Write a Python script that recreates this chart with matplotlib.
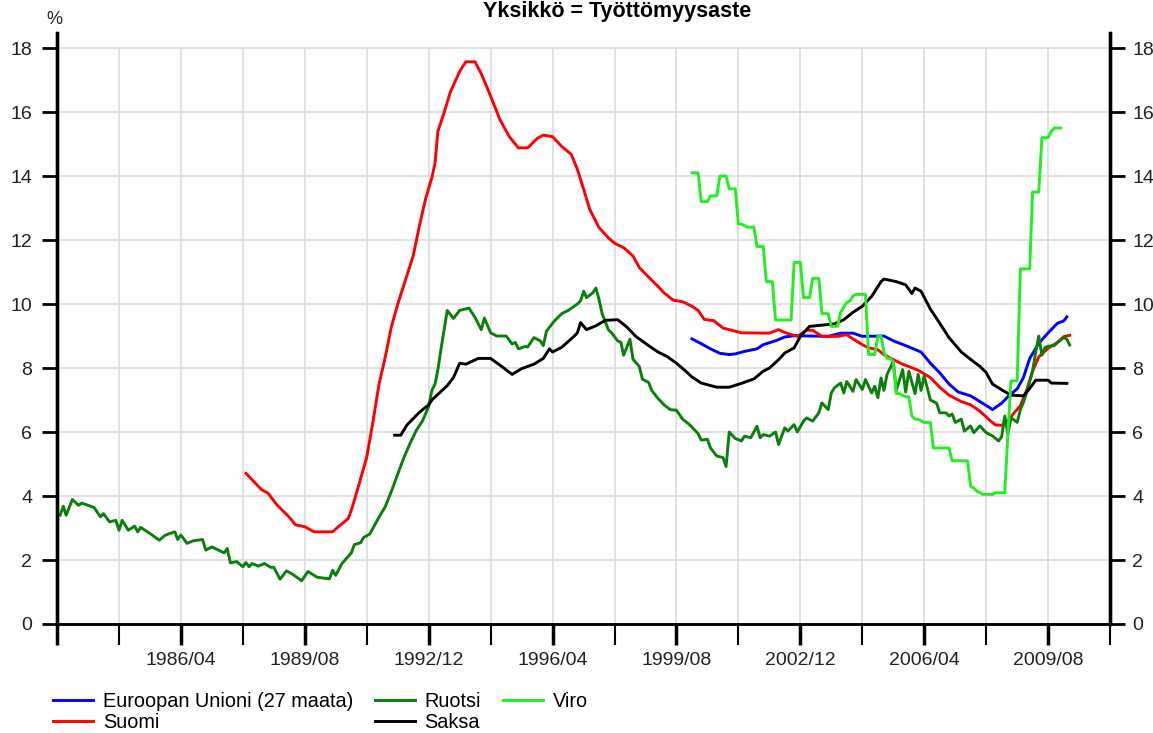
import matplotlib
matplotlib.use('Agg')
import matplotlib.pyplot as plt
import pandas as pd
import numpy as np

plt.rcParams['font.family'] = ['Liberation Sans', 'DejaVu Sans']

# Työttömyysaste (%), kuukausittain, luettu kuvasta
eu_dates = ['2000-01', '2000-04', '2000-07', '2000-10', '2001-01', '2001-03', '2001-06', '2001-10',
            '2001-12', '2002-04', '2002-07', '2002-10', '2003-09', '2004-01', '2004-05', '2004-08',
            '2005-03', '2005-06', '2005-10', '2006-03', '2006-06', '2006-09', '2006-12', '2007-03',
            '2007-07', '2007-10', '2008-01', '2008-02', '2008-05', '2008-07', '2008-10', '2008-12',
            '2009-02', '2009-05', '2009-08', '2009-11', '2010-01', '2010-02']
eu_values = [8.91, 8.76, 8.60, 8.46, 8.42, 8.44, 8.52, 8.60,
             8.73, 8.85, 8.97, 9.01, 8.99, 9.09, 9.09, 8.99,
             9.00, 8.85, 8.70, 8.50, 8.15, 7.85, 7.50, 7.25,
             7.13, 6.95, 6.77, 6.70, 6.90, 7.10, 7.35, 7.70,
             8.30, 8.77, 9.10, 9.40, 9.47, 9.60]

suomi_dates = ['1988-01', '1988-06', '1988-08', '1988-11', '1989-03', '1989-05', '1989-08', '1989-11',
               '1990-05', '1990-07', '1990-10', '1990-11', '1991-01', '1991-04', '1991-06', '1991-08',
               '1991-10', '1991-12', '1992-02', '1992-04', '1992-07', '1992-09', '1992-11', '1993-01',
               '1993-02', '1993-03', '1993-05', '1993-07', '1993-10', '1993-12', '1994-03', '1994-05',
               '1994-08', '1994-11', '1995-02', '1995-05', '1995-08', '1995-11', '1996-01', '1996-04',
               '1996-07', '1996-10', '1996-12', '1997-02', '1997-04', '1997-07', '1997-10', '1997-12',
               '1998-03', '1998-06', '1998-08', '1998-11', '1999-02', '1999-04', '1999-07', '1999-10',
               '2000-01', '2000-03', '2000-05', '2000-08', '2000-11', '2001-01', '2001-05', '2002-02',
               '2002-05', '2002-07', '2002-11', '2003-02', '2003-04', '2003-07', '2003-12', '2004-03',
               '2004-05', '2004-08', '2004-10', '2005-01', '2005-03', '2005-06', '2005-09', '2006-02',
               '2006-06', '2006-09', '2006-12', '2007-04', '2007-07', '2007-10', '2008-01', '2008-03',
               '2008-05', '2008-07', '2008-09', '2008-11', '2009-01', '2009-03', '2009-05', '2009-08',
               '2009-11', '2010-01', '2010-03']
suomi_values = [4.71, 4.20, 4.10, 3.72, 3.34, 3.10, 3.04, 2.88,
                2.88, 3.05, 3.29, 3.55, 4.20, 5.20, 6.30, 7.50,
                8.34, 9.30, 10.00, 10.60, 11.50, 12.45, 13.30, 13.95,
                14.40, 15.40, 15.98, 16.62, 17.27, 17.57, 17.57, 17.20,
                16.50, 15.76, 15.23, 14.88, 14.88, 15.17, 15.28, 15.23,
                14.92, 14.68, 14.21, 13.58, 12.96, 12.39, 12.07, 11.90,
                11.76, 11.50, 11.14, 10.84, 10.55, 10.35, 10.12, 10.07,
                9.93, 9.80, 9.52, 9.48, 9.25, 9.20, 9.10, 9.09,
                9.20, 9.11, 8.99, 9.18, 9.18, 8.99, 8.99, 9.04,
                8.91, 8.73, 8.63, 8.57, 8.42, 8.26, 8.12, 7.93,
                7.70, 7.40, 7.15, 6.95, 6.85, 6.65, 6.38, 6.22,
                6.21, 6.35, 6.60, 6.82, 7.30, 7.90, 8.35, 8.62,
                8.80, 8.98, 9.02]

ruotsi_dates = ['1983-01', '1983-02', '1983-03', '1983-05', '1983-07', '1983-08', '1983-12', '1984-02',
                '1984-03', '1984-05', '1984-07', '1984-08', '1984-09', '1984-11', '1985-01', '1985-02',
                '1985-03', '1985-06', '1985-09', '1985-11', '1986-02', '1986-03', '1986-04', '1986-06',
                '1986-08', '1986-11', '1986-12', '1987-02', '1987-06', '1987-07', '1987-08', '1987-10',
                '1987-12', '1988-01', '1988-02', '1988-03', '1988-05', '1988-07', '1988-09', '1988-10',
                '1988-12', '1989-02', '1989-04', '1989-07', '1989-09', '1989-12', '1990-04', '1990-05',
                '1990-06', '1990-08', '1990-11', '1990-12', '1991-02', '1991-03', '1991-05', '1991-08',
                '1991-10', '1991-12', '1992-02', '1992-04', '1992-06', '1992-08', '1992-10', '1992-12',
                '1993-01', '1993-02', '1993-03', '1993-04', '1993-06', '1993-08', '1993-10', '1994-01',
                '1994-03', '1994-05', '1994-06', '1994-08', '1994-10', '1995-01', '1995-03', '1995-04',
                '1995-05', '1995-07', '1995-08', '1995-10', '1995-12', '1996-01', '1996-02', '1996-04',
                '1996-05', '1996-07', '1996-09', '1996-12', '1997-01', '1997-02', '1997-03', '1997-05',
                '1997-06', '1997-07', '1997-08', '1997-10', '1997-11', '1998-01', '1998-02', '1998-03',
                '1998-05', '1998-06', '1998-08', '1998-09', '1998-11', '1998-12', '1999-02', '1999-04',
                '1999-06', '1999-08', '1999-10', '1999-12', '2000-01', '2000-03', '2000-04', '2000-06',
                '2000-07', '2000-09', '2000-11', '2000-12', '2001-01', '2001-03', '2001-05', '2001-06',
                '2001-08', '2001-10', '2001-11', '2001-12', '2002-02', '2002-04', '2002-05', '2002-07',
                '2002-08', '2002-10', '2002-11', '2003-01', '2003-02', '2003-04', '2003-06', '2003-07',
                '2003-09', '2003-10', '2003-11', '2004-01', '2004-02', '2004-03', '2004-05', '2004-06',
                '2004-08', '2004-09', '2004-11', '2004-12', '2005-01', '2005-02', '2005-03', '2005-04',
                '2005-06', '2005-07', '2005-09', '2005-10', '2005-11', '2006-01', '2006-02', '2006-03',
                '2006-04', '2006-06', '2006-08', '2006-09', '2006-11', '2006-12', '2007-01', '2007-02',
                '2007-04', '2007-05', '2007-07', '2007-08', '2007-10', '2007-11', '2007-12', '2008-02',
                '2008-04', '2008-05', '2008-06', '2008-07', '2008-08', '2008-10', '2008-11', '2008-12',
                '2009-01', '2009-03', '2009-04', '2009-05', '2009-06', '2009-07', '2009-08', '2009-10',
                '2009-11', '2010-01', '2010-02', '2010-03']
ruotsi_values = [3.40, 3.68, 3.40, 3.89, 3.71, 3.78, 3.64, 3.35,
                 3.45, 3.19, 3.24, 2.93, 3.24, 2.93, 3.06, 2.88,
                 3.02, 2.83, 2.62, 2.78, 2.88, 2.64, 2.78, 2.52,
                 2.60, 2.64, 2.31, 2.41, 2.22, 2.36, 1.91, 1.95,
                 1.79, 1.92, 1.79, 1.89, 1.81, 1.89, 1.77, 1.77,
                 1.40, 1.66, 1.56, 1.35, 1.64, 1.46, 1.41, 1.68,
                 1.52, 1.89, 2.22, 2.48, 2.54, 2.70, 2.81, 3.34,
                 3.67, 4.15, 4.69, 5.20, 5.65, 6.05, 6.35, 6.80,
                 7.30, 7.50, 7.95, 8.60, 9.80, 9.55, 9.80, 9.87,
                 9.58, 9.20, 9.56, 9.10, 9.00, 9.00, 8.75, 8.80,
                 8.60, 8.67, 8.66, 8.95, 8.85, 8.70, 9.15, 9.40,
                 9.51, 9.70, 9.80, 10.00, 10.10, 10.40, 10.20, 10.35,
                 10.50, 10.15, 9.70, 9.20, 9.10, 8.85, 8.80, 8.40,
                 8.90, 8.27, 8.05, 7.65, 7.55, 7.30, 7.05, 6.85,
                 6.70, 6.68, 6.40, 6.25, 6.15, 5.95, 5.75, 5.77,
                 5.50, 5.25, 5.20, 4.92, 6.00, 5.80, 5.72, 5.87,
                 5.82, 6.18, 5.82, 5.92, 5.87, 6.00, 5.61, 6.13,
                 6.03, 6.23, 6.00, 6.34, 6.44, 6.34, 6.60, 6.91,
                 6.70, 7.22, 7.38, 7.53, 7.22, 7.58, 7.27, 7.64,
                 7.33, 7.64, 7.22, 7.43, 7.07, 7.69, 7.30, 7.80,
                 8.20, 7.30, 7.95, 7.25, 7.90, 7.20, 7.80, 7.30,
                 7.75, 7.00, 6.90, 6.60, 6.60, 6.50, 6.56, 6.30,
                 6.40, 6.03, 6.19, 5.98, 6.19, 6.08, 5.98, 5.88,
                 5.72, 5.85, 6.50, 5.93, 6.45, 6.30, 6.70, 6.92,
                 7.23, 7.90, 8.50, 9.00, 8.40, 8.64, 8.68, 8.70,
                 8.80, 8.95, 8.90, 8.72]

saksa_dates = ['1992-01', '1992-03', '1992-05', '1992-09', '1992-12', '1993-01', '1993-06', '1993-08',
               '1993-10', '1993-12', '1994-04', '1994-08', '1994-11', '1995-03', '1995-06', '1995-10',
               '1996-01', '1996-03', '1996-04', '1996-07', '1996-11', '1996-12', '1997-01', '1997-03',
               '1997-06', '1997-09', '1998-01', '1998-04', '1998-07', '1998-11', '1999-02', '1999-05',
               '1999-08', '1999-11', '2000-01', '2000-04', '2000-09', '2001-01', '2001-05', '2001-09',
               '2001-12', '2002-02', '2002-05', '2002-07', '2002-10', '2002-12', '2003-03', '2003-08',
               '2003-11', '2004-02', '2004-05', '2004-08', '2004-11', '2005-02', '2005-03', '2005-07',
               '2005-10', '2005-12', '2006-01', '2006-03', '2006-06', '2006-09', '2006-12', '2007-04',
               '2007-07', '2007-10', '2007-12', '2008-02', '2008-05', '2008-08', '2008-12', '2009-02',
               '2009-04', '2009-08', '2009-09', '2010-02']
saksa_values = [5.90, 5.90, 6.22, 6.62, 6.85, 7.00, 7.45, 7.70,
                8.15, 8.12, 8.30, 8.30, 8.09, 7.80, 7.98, 8.12,
                8.30, 8.60, 8.50, 8.65, 9.00, 9.10, 9.42, 9.20,
                9.32, 9.49, 9.51, 9.28, 8.98, 8.70, 8.50, 8.36,
                8.15, 7.90, 7.72, 7.53, 7.40, 7.40, 7.52, 7.66,
                7.90, 8.00, 8.26, 8.47, 8.63, 8.99, 9.30, 9.35,
                9.38, 9.51, 9.74, 9.93, 10.24, 10.70, 10.78, 10.70,
                10.60, 10.33, 10.50, 10.40, 9.84, 9.40, 8.95, 8.50,
                8.27, 8.05, 7.86, 7.50, 7.32, 7.15, 7.13, 7.36,
                7.62, 7.62, 7.53, 7.52]

# Viro: kuukausiarvot alkaen 2000-01
viro_start = '2000-01'
viro_values = [14.1, 14.1, 14.1, 13.2, 13.2, 13.2, 13.38, 13.38, 13.38, 14.0, 14.0, 14.0,
               13.6, 13.6, 13.6, 12.5, 12.5, 12.45, 12.4, 12.4, 12.4, 11.8, 11.8, 11.8,
               10.7, 10.7, 10.7, 9.5, 9.5, 9.5, 9.5, 9.5, 9.5, 11.3, 11.3, 11.3,
               10.2, 10.2, 10.2, 10.8, 10.8, 10.8, 9.7, 9.7, 9.7, 9.3, 9.3, 9.3,
               9.75, 9.9, 10.05, 10.1, 10.25, 10.3, 10.3, 10.3, 10.3, 8.42, 8.42, 8.42,
               9.0, 9.0, 8.5, 8.3, 8.3, 8.2, 7.2, 7.2, 7.15, 7.1, 7.1, 6.5,
               6.4, 6.4, 6.35, 6.3, 6.3, 6.3, 5.5, 5.5, 5.5, 5.5, 5.5, 5.5,
               5.1, 5.1, 5.1, 5.1, 5.1, 5.1, 4.3, 4.25, 4.15, 4.1, 4.05, 4.05,
               4.05, 4.05, 4.1, 4.1, 4.1, 4.1, 5.9, 7.6, 7.6, 7.6, 11.1, 11.1,
               11.1, 11.1, 13.5, 13.5, 13.5, 15.2, 15.2, 15.2, 15.4, 15.5, 15.5, 15.5]

series = [
    ('Euroopan Unioni (27 maata)', eu_dates, eu_values, '#0000ff'),
    ('Suomi', suomi_dates, suomi_values, '#ff0000'),
    ('Ruotsi', ruotsi_dates, ruotsi_values, '#0a7f0a'),
    ('Saksa', saksa_dates, saksa_values, '#000000'),
]
viro_dates = pd.date_range(viro_start, periods=len(viro_values), freq='MS')

W, H = 1153, 733
fig = plt.figure(figsize=(W / 100, H / 100), dpi=100)
ax = fig.add_axes([57 / W, 1 - 624 / H, (1110 - 57) / W, (624 - 33) / H])

x0 = pd.Timestamp('1982-12-01')
x1 = pd.Timestamp('2011-04-01')
ticks = pd.date_range(x0, x1, freq='20MS')
major = ticks[::2]
minor = ticks[1::2]

# ruudukko
grid_c = '#dcdcdc'
ax.vlines(ticks[1:-1], 0, 18, color=grid_c, lw=1.2, zorder=0)
ax.hlines(np.arange(2, 19, 2), x0, x1, color=grid_c, lw=1.2, zorder=0)

handles = {}
for name, d, v, c in series:
    ln, = ax.plot(pd.to_datetime(d, format='%Y-%m'), v, color=c, lw=2.1, zorder=3)
    handles[name] = ln
ln, = ax.plot(viro_dates, viro_values, color='#22ee22', lw=2.1, zorder=3)
handles['Viro'] = ln

ax.set_xlim(x0, x1)
ax.set_ylim(0, 18.47)

ax.set_xticks(major)
ax.set_xticklabels([''] + [t.strftime('%Y/%m') for t in major[1:]])
ax.set_xticks(minor, minor=True)
ax.tick_params(axis='x', which='major', direction='out', length=15, width=2.5,
               labelsize=14, pad=5, labelcolor='#222222')
ax.tick_params(axis='x', which='minor', direction='out', length=15, width=1.5)

yt = np.arange(0, 19, 2)
ax.set_yticks(yt)
ax.tick_params(axis='y', direction='out', length=11, width=2, labelsize=14, pad=7,
               labelcolor='#222222')

ax2 = ax.twinx()
ax2.set_ylim(ax.get_ylim())
ax2.set_yticks(yt)
ax2.tick_params(axis='y', direction='out', length=11, width=2, labelsize=14, pad=5,
                labelcolor='#222222')

for a in (ax, ax2):
    a.spines['top'].set_visible(False)
    a.spines['left'].set_linewidth(2.4)
    a.spines['right'].set_linewidth(2.4)
    a.spines['bottom'].set_linewidth(1.8)

fig.text(54 / W, 1 - 20 / H, '%', ha='center', va='center', fontsize=13, color='#222222')
fig.text(617 / W, 1 - 17 / H, 'Yksikkö = Työttömyysaste', ha='center', va='baseline',
         fontsize=15.5, fontweight='bold')

order = ['Euroopan Unioni (27 maata)', 'Suomi', 'Ruotsi', 'Saksa', 'Viro']
fig.legend([handles[k] for k in order], order, ncol=3, loc='upper left',
           bbox_to_anchor=(53 / W, 1 - 692 / H), frameon=False, fontsize=14.3,
           handlelength=2.0, handletextpad=0.5, columnspacing=1.1, labelspacing=0.12,
           borderpad=0, borderaxespad=0)

fig.savefig('out.png', dpi=100)
